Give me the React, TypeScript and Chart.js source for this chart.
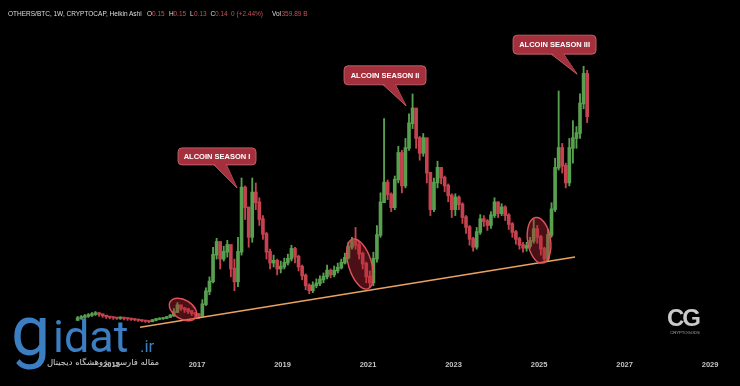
import { useEffect, useRef } from "react";
import { Chart, registerables } from "chart.js";

Chart.register(...registerables);

// Monthly Heikin Ashi candles of OTHERS/BTC, first month: March 2014
const firstYear = 2014;
const firstMonth = 3;
const firstOpen = 0.013;

const closes = [
  0.014, 0.0145, 0.015, 0.0155, 0.016, 0.0165, 0.016, 0.0153, 0.0148, 0.0145,
  0.0143, 0.014, 0.0143, 0.014, 0.0138, 0.0135, 0.0133, 0.013, 0.0128, 0.0125,
  0.0123, 0.013, 0.0135, 0.0138, 0.014, 0.0145, 0.0153, 0.017, 0.0205, 0.019,
  0.0185, 0.0175, 0.0165, 0.016, 0.015, 0.021, 0.0275, 0.0325, 0.046, 0.0525,
  0.044, 0.0475, 0.051, 0.039, 0.0325, 0.0475, 0.08, 0.07, 0.055, 0.0775,
  0.0725, 0.064, 0.0565, 0.0475, 0.042, 0.043, 0.039, 0.04, 0.042, 0.044,
  0.049, 0.045, 0.04, 0.0355, 0.0305, 0.028, 0.0305, 0.0315, 0.0335, 0.035,
  0.038, 0.036, 0.038, 0.0395, 0.042, 0.0445, 0.05, 0.053, 0.051, 0.0465,
  0.0415, 0.035, 0.032, 0.044, 0.056, 0.0725, 0.0825, 0.0765, 0.07, 0.084,
  0.0975, 0.081, 0.1, 0.1125, 0.12, 0.105, 0.0975, 0.105, 0.0875, 0.069,
  0.0825, 0.09, 0.085, 0.081, 0.076, 0.069, 0.075, 0.0715, 0.065, 0.06,
  0.054, 0.05, 0.0575, 0.064, 0.063, 0.061, 0.066, 0.0725, 0.067, 0.07,
  0.066, 0.0615, 0.0575, 0.054, 0.051, 0.0495, 0.0505, 0.053, 0.059, 0.055,
  0.049, 0.044, 0.056, 0.069, 0.09, 0.1, 0.091, 0.0825, 0.1, 0.105,
  0.1075, 0.1225, 0.1375, 0.116,
];

const highs = [
  0.015, 0.0155, 0.016, 0.0165, 0.017, 0.0175, 0.017, 0.016, 0.0155, 0.015,
  0.0148, 0.0145, 0.0148, 0.0145, 0.0143, 0.014, 0.0138, 0.0135, 0.0133, 0.013,
  0.013, 0.0135, 0.014, 0.0143, 0.0145, 0.015, 0.016, 0.019, 0.022, 0.0205,
  0.0195, 0.019, 0.018, 0.017, 0.0165, 0.0235, 0.0295, 0.035, 0.05, 0.0545,
  0.0525, 0.0505, 0.0535, 0.051, 0.044, 0.055, 0.085, 0.081, 0.07, 0.085,
  0.0825, 0.075, 0.066, 0.0575, 0.049, 0.046, 0.044, 0.043, 0.0445, 0.0465,
  0.051, 0.05, 0.046, 0.041, 0.0365, 0.0315, 0.0325, 0.034, 0.0355, 0.037,
  0.041, 0.039, 0.0405, 0.042, 0.044, 0.047, 0.0525, 0.055, 0.06, 0.053,
  0.0475, 0.0425, 0.038, 0.0475, 0.061, 0.0775, 0.115, 0.084, 0.0775, 0.086,
  0.101, 0.099, 0.105, 0.1175, 0.1275, 0.119, 0.106, 0.1075, 0.1025, 0.086,
  0.085, 0.0935, 0.09, 0.086, 0.082, 0.077, 0.077, 0.076, 0.0725, 0.066,
  0.061, 0.055, 0.06, 0.0665, 0.066, 0.064, 0.068, 0.075, 0.073, 0.072,
  0.071, 0.067, 0.0625, 0.0585, 0.055, 0.0525, 0.0525, 0.055, 0.064, 0.061,
  0.056, 0.05, 0.059, 0.0725, 0.095, 0.129, 0.1025, 0.0925, 0.105, 0.114,
  0.111, 0.1275, 0.1415, 0.1395,
];

const lows = [
  0.013, 0.0135, 0.014, 0.0145, 0.015, 0.0155, 0.015, 0.0145, 0.014, 0.0138,
  0.0135, 0.0135, 0.0135, 0.0133, 0.013, 0.013, 0.0128, 0.0125, 0.0123, 0.012,
  0.0118, 0.0123, 0.0128, 0.0133, 0.0135, 0.014, 0.0145, 0.015, 0.018, 0.018,
  0.017, 0.0165, 0.0155, 0.0145, 0.014, 0.015, 0.0205, 0.026, 0.032, 0.044,
  0.039, 0.043, 0.045, 0.035, 0.028, 0.03, 0.046, 0.064, 0.05, 0.0525,
  0.069, 0.061, 0.054, 0.044, 0.039, 0.04, 0.036, 0.037, 0.039, 0.041,
  0.043, 0.042, 0.038, 0.0335, 0.0285, 0.0265, 0.027, 0.0295, 0.0305, 0.032,
  0.034, 0.0345, 0.035, 0.037, 0.039, 0.0415, 0.044, 0.049, 0.049, 0.044,
  0.039, 0.032, 0.03, 0.0305, 0.0425, 0.055, 0.0725, 0.074, 0.068, 0.069,
  0.0825, 0.0775, 0.08, 0.099, 0.11, 0.1, 0.094, 0.096, 0.0825, 0.066,
  0.068, 0.08, 0.082, 0.078, 0.073, 0.065, 0.066, 0.069, 0.062, 0.057,
  0.051, 0.048, 0.049, 0.0565, 0.0605, 0.0585, 0.0595, 0.065, 0.065, 0.066,
  0.0635, 0.059, 0.055, 0.0515, 0.049, 0.0475, 0.048, 0.0495, 0.052, 0.052,
  0.046, 0.042, 0.043, 0.055, 0.068, 0.089, 0.0875, 0.08, 0.081, 0.0925,
  0.1, 0.105, 0.12, 0.113,
];

const tickYears = [2015, 2017, 2019, 2021, 2023, 2025, 2027, 2029];

// support trend line (two touch points)
const trendYears = [2015.667, 2025.842];
const trendValues = [0.0095, 0.045];

// "Alcoin season" call-outs: the tip points at the cycle top
const seasonLabels = ["ALCOIN SEASON I", "ALCOIN SEASON II", "ALCOIN SEASON III"];
const seasonTipYears = [2017.936, 2021.889, 2025.889];
const seasonTipValues = [0.08, 0.1215, 0.1375];

// highlighted bottoms (ellipses)
const zoneYears = [2016.673, 2020.813, 2025.0];
const zoneValues = [0.0185, 0.0415, 0.0535];

// ---- styles / geometry (not data) ----
const GREEN = "#58a04f";
const RED = "#c5424e";
const calloutGeom = [
  { dx: -59, dy: -40, w: 78, h: 17, b1: -24, b2: -11 },
  { dx: -62, dy: -40, w: 82, h: 19, b1: -24, b2: -11 },
  { dx: -64, dy: -39, w: 83, h: 19, b1: -27, b2: -14 },
];
const zoneGeom = [
  { rx: 15, ry: 9.5, rot: 0.55 },
  { rx: 11.5, ry: 26, rot: -0.3 },
  { rx: 11.5, ry: 23, rot: -0.15 },
];

const overlayPlugin = {
  id: "overlayMarks",
  afterDatasetsDraw(chart: any) {
    const { ctx } = chart;
    const xs = chart.scales.x;
    const ys = chart.scales.y;
    ctx.save();
    zoneYears.forEach((yr, k) => {
      const cx = xs.getPixelForValue(yr);
      const cy = ys.getPixelForValue(zoneValues[k]);
      const g = zoneGeom[k];
      ctx.beginPath();
      ctx.ellipse(cx, cy, g.rx, g.ry, g.rot, 0, Math.PI * 2);
      ctx.fillStyle = "rgba(185,40,52,0.40)";
      ctx.fill();
      ctx.lineWidth = 1.4;
      ctx.strokeStyle = "#e0525b";
      ctx.stroke();
    });
    seasonLabels.forEach((label, k) => {
      const tx = xs.getPixelForValue(seasonTipYears[k]);
      const ty = ys.getPixelForValue(seasonTipValues[k]);
      const g = calloutGeom[k];
      const bx = tx + g.dx;
      const by = ty + g.dy;
      const bottom = by + g.h;
      const fill = "#a3303c";
      const edge = "#cf6e75";
      ctx.beginPath();
      ctx.moveTo(tx + g.b1, bottom - 1);
      ctx.lineTo(tx, ty);
      ctx.lineTo(tx + g.b2, bottom - 1);
      ctx.closePath();
      ctx.fillStyle = fill;
      ctx.fill();
      ctx.lineWidth = 0.8;
      ctx.strokeStyle = edge;
      ctx.stroke();
      ctx.beginPath();
      ctx.roundRect(bx, by, g.w, g.h, 4);
      ctx.fillStyle = fill;
      ctx.fill();
      ctx.lineWidth = 0.8;
      ctx.strokeStyle = edge;
      ctx.stroke();
      ctx.beginPath();
      ctx.moveTo(tx + g.b1 + 0.8, bottom - 2);
      ctx.lineTo(tx, ty - 1);
      ctx.lineTo(tx + g.b2 - 0.8, bottom - 2);
      ctx.closePath();
      ctx.fillStyle = fill;
      ctx.fill();
      ctx.fillStyle = "#ffffff";
      ctx.font = 'bold 7.5px "Liberation Sans", Arial, sans-serif';
      ctx.textAlign = "center";
      ctx.textBaseline = "middle";
      ctx.fillText(label, bx + g.w / 2, by + g.h / 2 + 0.5);
    });
    ctx.restore();
  },
};

export default function App() {
  const ref = useRef<HTMLCanvasElement | null>(null);

  useEffect(() => {
    document.body.style.margin = "0";
    document.body.style.background = "#000";
    const canvas = ref.current;
    if (!canvas) return;

    const xs = closes.map((_, i) => {
      const m = firstMonth - 1 + i;
      return firstYear + Math.floor(m / 12) + (m % 12) / 12 + 1 / 24;
    });
    const opens = closes.map((_, i) => (i === 0 ? firstOpen : closes[i - 1]));
    const colors = closes.map((c, i) => (c >= opens[i] ? GREEN : RED));

    const wicks = xs.map((x, i) => ({
      x,
      y: [Math.min(lows[i], opens[i], closes[i]), Math.max(highs[i], opens[i], closes[i])],
    }));
    const bodies = xs.map((x, i) => ({
      x,
      y: [Math.min(opens[i], closes[i]), Math.max(opens[i], closes[i]) + 0.0004],
    }));

    const chart = new Chart(canvas, {
      type: "bar",
      data: {
        datasets: [
          {
            type: "line",
            data: trendYears.map((x, i) => ({ x, y: trendValues[i] })),
            borderColor: "#eaa262",
            borderWidth: 1.5,
            pointRadius: 0,
            order: 0,
          } as any,
          {
            data: bodies as any,
            backgroundColor: colors,
            barThickness: 3,
            grouped: false,
            order: 1,
          },
          {
            data: wicks as any,
            backgroundColor: colors,
            barThickness: 1.2,
            grouped: false,
            order: 2,
          },
        ],
      },
      options: {
        responsive: false,
        animation: false,
        events: [],
        layout: { padding: { left: 0, right: 0, top: 0, bottom: 13 } },
        plugins: {
          legend: { display: false },
          tooltip: { enabled: false },
          title: { display: false },
        },
        scales: {
          x: {
            type: "linear",
            min: 2012.392,
            max: 2029.7,
            offset: false,
            grid: { display: false, drawTicks: false },
            border: { display: false },
            afterBuildTicks: (scale: any) => {
              scale.ticks = tickYears.map((v) => ({ value: v }));
            },
            ticks: {
              color: "#c4c4c4",
              font: { family: '"Liberation Sans", Arial, sans-serif', size: 7.5, weight: "bold" },
              padding: 4,
              maxRotation: 0,
              autoSkip: false,
              callback: (v: any) => String(v),
            },
          },
          y: { display: false, min: -0.005, max: 0.175 },
        },
      },
      plugins: [overlayPlugin],
    });

    return () => chart.destroy();
  }, []);

  const hdr = { fontFamily: '"Liberation Sans", Arial, sans-serif', fontSize: 6.5 } as const;
  const red = "#c7505c";
  const wht = "#dedede";

  return (
    <div style={{ position: "absolute", left: 0, top: 0, width: 740, height: 386, background: "#000", overflow: "hidden" }}>
      <canvas ref={ref} width={740} height={386} style={{ display: "block" }} />
      <svg width={740} height={386} style={{ position: "absolute", left: 0, top: 0, pointerEvents: "none" }}>
        <g style={hdr}>
          <text x={8} y={15.5} fill={wht}>OTHERS/BTC, 1W, CRYPTOCAP, Heikin Ashi</text>
          <text x={147} y={15.5} fill={wht}>O</text>
          <text x={152} y={15.5} fill={red}>0.15</text>
          <text x={169} y={15.5} fill={wht}>H</text>
          <text x={173.5} y={15.5} fill={red}>0.15</text>
          <text x={190} y={15.5} fill={wht}>L</text>
          <text x={194} y={15.5} fill={red}>0.13</text>
          <text x={210.5} y={15.5} fill={wht}>C</text>
          <text x={215} y={15.5} fill={red}>0.14</text>
          <text x={231} y={15.5} fill={red}>0 (+2.44%)</text>
          <text x={272} y={15.5} fill={wht}>Vol</text>
          <text x={281.5} y={15.5} fill={red}>359.89 B</text>
        </g>
        <g fill="#3b7ec2" style={{ fontFamily: "Roboto, sans-serif" }}>
          <text x={11} y={355} fontSize={70}>g</text>
          <text x={53} y={352} fontSize={45}>idat</text>
          <text x={140} y={352} fontSize={17}>.ir</text>
        </g>
        <text x={667} y={326} fontSize={24} fontWeight="bold" fill="#cacaca" letterSpacing={-2}
          style={{ fontFamily: '"Liberation Sans", Arial, sans-serif' }}>CG</text>
        <text x={685} y={333.5} fontSize={4.2} textAnchor="middle" fill="#a8a8a8"
          style={{ fontFamily: '"Liberation Sans", Arial, sans-serif' }}>CRYPTOGODS</text>
      </svg>
      <div
        dir="rtl"
        style={{
          position: "absolute",
          left: 46,
          top: 357,
          width: 114,
          textAlign: "center",
          fontFamily: '"DejaVu Sans", sans-serif',
          fontSize: 8.5,
          lineHeight: "11px",
          color: "#c9c9c9",
          whiteSpace: "nowrap",
          textShadow: "0 0 1px #222",
        }}
      >
        مقاله فارسی پژوهشگاه دیجیتال
      </div>
    </div>
  );
}
